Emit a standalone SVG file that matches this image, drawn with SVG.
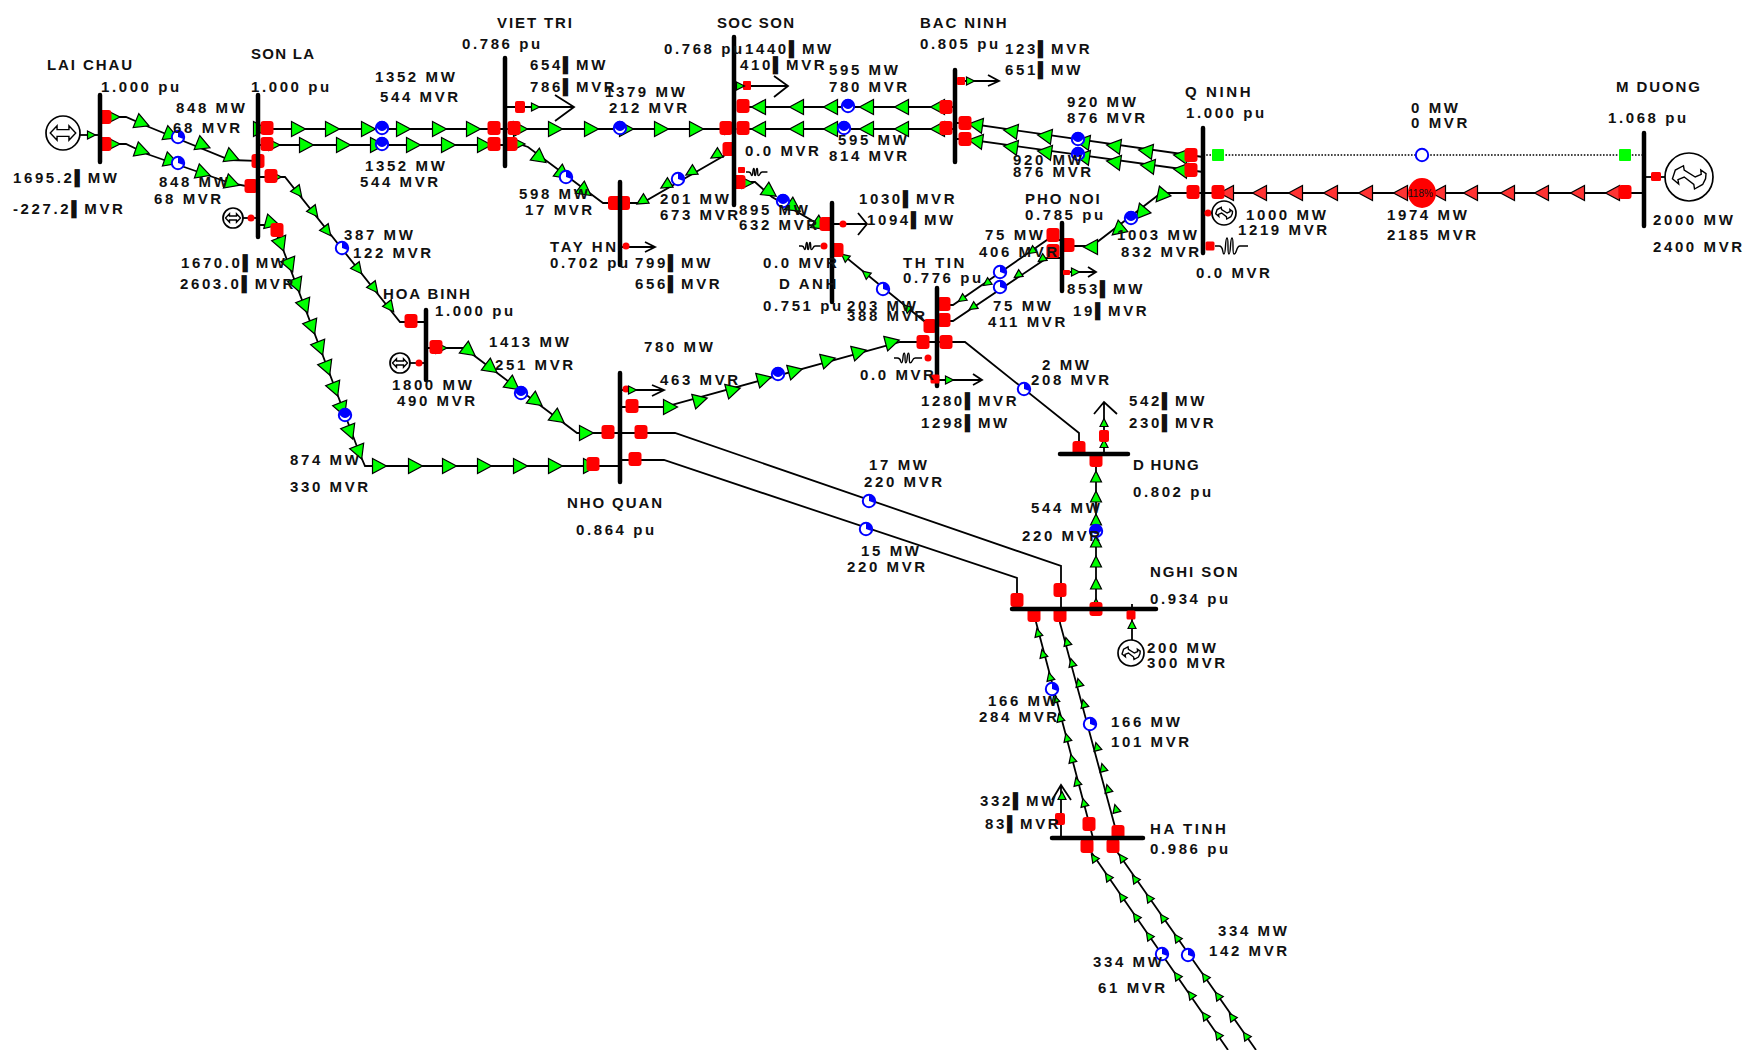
<svg xmlns="http://www.w3.org/2000/svg" width="1748" height="1050" viewBox="0 0 1748 1050">
<style>
text{font-family:"Liberation Sans","DejaVu Sans",sans-serif;font-weight:bold;font-size:15px;letter-spacing:2.6px;fill:#111}
text.k{letter-spacing:1.9px}
text.kk{letter-spacing:1.3px}
text.pct{font-size:10px;letter-spacing:0;font-weight:normal}
.bus{stroke:#000;stroke-width:4.5;stroke-linecap:round;fill:none}
.ln{stroke:#000;stroke-width:1.8;fill:none}
.dot{stroke:#000;stroke-width:1.6;stroke-dasharray:1.6 1.6;fill:none}
.tf{fill:#0f0;stroke:#000;stroke-width:1.2}
.tr{fill:#f33;stroke:#000;stroke-width:1.2}
.rd{fill:#f00}
.gs{fill:#fff;stroke:#000;stroke-width:1.7;vector-effect:non-scaling-stroke}
.g0{fill:none;stroke:#000;stroke-width:1.4;vector-effect:non-scaling-stroke}
.bo{fill:#fff;stroke:#00f;stroke-width:2}
.bf{fill:#00f}
</style>
<defs>
<polygon id="t" class="tf" points="-6.5,-7.5 7.5,0 -6.5,7.5"/>
<polygon id="s" class="tf" points="-5,-5.5 6,0 -5,5.5"/>
<polygon id="x" class="tf" points="-3.5,-4 4.5,0 -3.5,4"/>
<polygon id="q" class="tr" points="-6.5,-7.5 7.500,0 -6.5,7.5"/>
<rect id="r" class="rd" x="-6.5" y="-7" width="13" height="14" rx="3"/>
<rect id="w" class="rd" x="-4.5" y="-4.5" width="9" height="9" rx="1.5"/>
<circle id="d" class="rd" r="3.5"/>
<g id="b0"><circle class="bo" r="6.2"/></g>
<g id="b1"><circle class="bo" r="6.2"/><path class="bf" d="M-6-1A6 6 0 0 1 6-1Q0 7-6-1z"/></g>
<g id="b2"><circle class="bo" r="6.2"/><path class="bf" d="M0 0V-6A6 6 0 0 1 5.5 2z"/></g>
<path id="coil" class="g0" d="M0 0H4C9 0 7 8 9 8C11 8 10-8 12-8C14-8 12 8 14 8C16 8 15-8 17-8C19-8 17 8 19 8C22 8 21 0 25 0H33"/>
<g id="g1"><circle class="gs" r="10"/><path class="g0" d="M-7.500 0L-3.500-4.200V-2H3.500V-4.200L7.500 0L3.500 4.200V2H-3.500V4.200Z"/></g>
<g id="g2"><circle class="gs" r="10"/><path class="g0" d="M-6.900 .7L-5.700-2.900L-2.300-4.700L-2-2.900L2.600 0L5.100-1.100L4.900-2.900L7.100-1.400L6.900 .7L5.700 3.100L2.300 5L2 3.100L-2 0L-4.600 1.100L-4.300 2.900Z"/></g>
</defs>
<rect width="1748" height="1050" fill="#fff"/>

<g id="connectors">
<path class="ln" d="M100 117H126L149 127L230 160L258 161"/>
<path class="ln" d="M100 144H126L147 154L230 183L251 187"/>
<path class="ln" d="M258 129H505M258 145H505M505 129H734M743 107H955M743 129H955"/>
<path class="ln" d="M505 144H519L528 147L603 203H620M734 150L642 203H620"/>
<path class="ln" d="M258 177H285L400 322H426"/>
<path class="ln" d="M258 225H272L281 244L359 452L365 466H620"/>
<path class="ln" d="M426 348H464L577 433H641H675L1061 566V609"/>
<path class="ln" d="M620 460H664L1017 578V609"/>
<path class="ln" d="M620 407H664L900 342H946H965L1079 433V454"/>
<path class="ln" d="M734 182H755L772 197L818 224H832"/>
<path class="ln" d="M832 250H837L930 326H937"/>
<path class="ln" d="M937 305H953L1047 240H1062M937 321H953L1047 258H1062"/>
<path class="ln" d="M1062 246H1092L1161 193H1203"/>
<path class="ln" d="M955 123H965L1203 157M955 139H965L1203 172"/>
<path class="ln" d="M1203 193H1644"/>
<path class="dot" d="M1203 155H1644"/>
<path class="ln" d="M1096 454V609"/>
<path class="ln" d="M1034 609L1036 622L1093 838M1060 609V623L1118 838"/>
<path class="ln" d="M1087 838V846L1228 1050M1113 838V846L1256 1050"/>

<use href="#s" transform="translate(114 117)"/><use href="#t" transform="translate(142 123)rotate(22)"/><use href="#t" transform="translate(171 135)rotate(22)"/><use href="#t" transform="translate(203 145)rotate(22)"/><use href="#t" transform="translate(232 157)rotate(22)"/>
<use href="#s" transform="translate(114 144)"/><use href="#t" transform="translate(142 151)rotate(19)"/><use href="#t" transform="translate(171 161)rotate(19)"/><use href="#t" transform="translate(203 173)rotate(19)"/><use href="#t" transform="translate(232 183)rotate(19)"/>

<use href="#t" x="260" y="129"/><use href="#t" x="298" y="129"/><use href="#t" x="332" y="129"/><use href="#t" x="368" y="129"/><use href="#t" x="403" y="129"/><use href="#t" x="439" y="129"/><use href="#t" x="473" y="129"/>
<use href="#s" x="274" y="145"/><use href="#t" x="306" y="145"/><use href="#t" x="343" y="145"/><use href="#t" x="377" y="145"/><use href="#t" x="413" y="145"/><use href="#t" x="448" y="145"/><use href="#t" x="484" y="145"/>
<use href="#t" x="520" y="129"/><use href="#t" x="555" y="129"/><use href="#t" x="591" y="129"/><use href="#t" x="626" y="129"/><use href="#t" x="661" y="129"/><use href="#t" x="696" y="129"/><use href="#s" x="730" y="129"/>

<use href="#s" x="519" y="144"/><use href="#t" transform="translate(540 158)rotate(37)"/><use href="#t" transform="translate(563 174)rotate(37)"/><use href="#t" transform="translate(585 191)rotate(37)"/>
<use href="#s" transform="translate(716 155)rotate(149)"/><use href="#s" transform="translate(691 172)rotate(149)"/><use href="#s" transform="translate(666 185)rotate(149)"/><use href="#s" transform="translate(642 201)rotate(149)"/>

<use href="#t" transform="translate(759 107)rotate(180)"/><use href="#t" transform="translate(797 107)rotate(180)"/><use href="#t" transform="translate(831 107)rotate(180)"/><use href="#t" transform="translate(867 107)rotate(180)"/><use href="#t" transform="translate(902 107)rotate(180)"/><use href="#t" transform="translate(938 107)rotate(180)"/>
<use href="#t" transform="translate(759 129)rotate(180)"/><use href="#t" transform="translate(797 129)rotate(180)"/><use href="#t" transform="translate(831 129)rotate(180)"/><use href="#t" transform="translate(867 129)rotate(180)"/><use href="#t" transform="translate(902 129)rotate(180)"/><use href="#t" transform="translate(938 129)rotate(180)"/>

<use href="#t" transform="translate(976 125)rotate(188)"/><use href="#t" transform="translate(1011 131)rotate(188)"/><use href="#t" transform="translate(1045 136)rotate(188)"/><use href="#t" transform="translate(1083 142)rotate(188)"/><use href="#t" transform="translate(1114 146)rotate(188)"/><use href="#t" transform="translate(1146 151)rotate(188)"/><use href="#t" transform="translate(1181 156)rotate(188)"/>
<use href="#t" transform="translate(976 141)rotate(188)"/><use href="#t" transform="translate(1011 147)rotate(188)"/><use href="#t" transform="translate(1045 152)rotate(188)"/><use href="#t" transform="translate(1083 157)rotate(188)"/><use href="#t" transform="translate(1114 162)rotate(188)"/><use href="#t" transform="translate(1148 166)rotate(188)"/><use href="#t" transform="translate(1181 170)rotate(188)"/>

<use href="#x" x="277" y="177"/><use href="#s" transform="translate(298 192)rotate(52)"/><use href="#s" transform="translate(314 212)rotate(52)"/><use href="#s" transform="translate(327 231)rotate(52)"/><use href="#s" transform="translate(358 269)rotate(52)"/><use href="#s" transform="translate(374 288)rotate(52)"/><use href="#s" transform="translate(390 307)rotate(52)"/>

<use href="#t" transform="translate(272 223)rotate(15)"/><use href="#t" transform="translate(281 244)rotate(69)"/><use href="#t" transform="translate(290 265)rotate(69)"/><use href="#t" transform="translate(297 285)rotate(69)"/><use href="#t" transform="translate(305 306)rotate(69)"/><use href="#t" transform="translate(312 327)rotate(69)"/><use href="#t" transform="translate(320 348)rotate(69)"/><use href="#t" transform="translate(327 368)rotate(69)"/><use href="#t" transform="translate(335 389)rotate(69)"/><use href="#t" transform="translate(342 409)rotate(69)"/><use href="#t" transform="translate(350 432)rotate(69)"/><use href="#t" transform="translate(359 452)rotate(69)"/>
<use href="#t" x="379" y="466"/><use href="#t" x="415" y="466"/><use href="#t" x="449" y="466"/><use href="#t" x="484" y="466"/><use href="#t" x="520" y="466"/><use href="#t" x="555" y="466"/><use href="#t" x="590" y="466"/>

<use href="#s" x="441" y="348"/><use href="#t" transform="translate(469 351)rotate(37)"/><use href="#t" transform="translate(491 368)rotate(37)"/><use href="#t" transform="translate(513 385)rotate(37)"/><use href="#t" transform="translate(536 401)rotate(37)"/><use href="#t" transform="translate(558 418)rotate(37)"/><use href="#t" x="586" y="433"/>

<use href="#t" x="670" y="407"/><use href="#t" transform="translate(700 400)rotate(-15)"/><use href="#t" transform="translate(733 390)rotate(-15)"/><use href="#t" transform="translate(764 379)rotate(-15)"/><use href="#t" transform="translate(795 371)rotate(-15)"/><use href="#t" transform="translate(828 360)rotate(-15)"/><use href="#t" transform="translate(859 352)rotate(-15)"/><use href="#t" transform="translate(892 342)rotate(-15)"/>

<use href="#s" x="747" y="183"/><use href="#t" transform="translate(770 192)rotate(34)"/><use href="#t" transform="translate(794 207)rotate(34)"/><use href="#t" transform="translate(820 225)rotate(34)"/>
<use href="#x" transform="translate(845 257)rotate(219)"/><use href="#x" transform="translate(866 274)rotate(219)"/><use href="#x" transform="translate(907 308)rotate(219)"/>
<use href="#x" transform="translate(962 299)rotate(145)"/><use href="#x" transform="translate(987 283)rotate(145)"/><use href="#x" transform="translate(1032 251)rotate(145)"/>
<use href="#x" transform="translate(973 307)rotate(146)"/><use href="#x" transform="translate(1018 275)rotate(146)"/><use href="#x" transform="translate(1042 259)rotate(146)"/>
<use href="#t" transform="translate(1091 247)rotate(180)"/><use href="#t" transform="translate(1118 230)rotate(140)"/><use href="#t" transform="translate(1141 213)rotate(130)"/><use href="#t" transform="translate(1161 196)rotate(130)"/>

<use href="#q" transform="translate(1227 193)rotate(180)"/><use href="#q" transform="translate(1260 193)rotate(180)"/><use href="#q" transform="translate(1296 193)rotate(180)"/><use href="#q" transform="translate(1331 193)rotate(180)"/><use href="#q" transform="translate(1366 193)rotate(180)"/><use href="#q" transform="translate(1401 193)rotate(180)"/><use href="#q" transform="translate(1439 193)rotate(180)"/><use href="#q" transform="translate(1471 193)rotate(180)"/><use href="#q" transform="translate(1508 193)rotate(180)"/><use href="#q" transform="translate(1542 193)rotate(180)"/><use href="#q" transform="translate(1578 193)rotate(180)"/><use href="#q" transform="translate(1613 193)rotate(180)"/>

<use href="#s" transform="translate(1096 477)rotate(-90)"/><use href="#s" transform="translate(1096 497)rotate(-90)"/><use href="#s" transform="translate(1096 520)rotate(-90)"/><use href="#s" transform="translate(1096 542)rotate(-90)"/><use href="#s" transform="translate(1096 562)rotate(-90)"/><use href="#s" transform="translate(1096 584)rotate(-90)"/><use href="#x" transform="translate(1096 603)rotate(-90)"/>

<use href="#x" transform="translate(1038 633)rotate(-105)"/><use href="#x" transform="translate(1043 654)rotate(-105)"/><use href="#x" transform="translate(1050 677)rotate(-105)"/><use href="#x" transform="translate(1055 699)rotate(-105)"/><use href="#x" transform="translate(1060 718)rotate(-105)"/><use href="#x" transform="translate(1067 738)rotate(-105)"/><use href="#x" transform="translate(1072 759)rotate(-105)"/><use href="#x" transform="translate(1077 782)rotate(-105)"/><use href="#x" transform="translate(1084 803)rotate(-105)"/>
<use href="#x" transform="translate(1067 642)rotate(-105)"/><use href="#x" transform="translate(1072 663)rotate(-105)"/><use href="#x" transform="translate(1079 683)rotate(-105)"/><use href="#x" transform="translate(1084 704)rotate(-105)"/><use href="#x" transform="translate(1097 747)rotate(-105)"/><use href="#x" transform="translate(1103 768)rotate(-105)"/><use href="#x" transform="translate(1108 789)rotate(-105)"/><use href="#x" transform="translate(1116 809)rotate(-105)"/>

<use href="#x" transform="translate(1094 858)rotate(-125)"/><use href="#x" transform="translate(1108 877)rotate(-125)"/><use href="#x" transform="translate(1122 897)rotate(-125)"/><use href="#x" transform="translate(1136 917)rotate(-125)"/><use href="#x" transform="translate(1149 936)rotate(-125)"/><use href="#x" transform="translate(1177 976)rotate(-125)"/><use href="#x" transform="translate(1191 995)rotate(-125)"/><use href="#x" transform="translate(1205 1016)rotate(-125)"/><use href="#x" transform="translate(1218 1035)rotate(-125)"/>
<use href="#x" transform="translate(1122 858)rotate(-125)"/><use href="#x" transform="translate(1135 879)rotate(-125)"/><use href="#x" transform="translate(1149 898)rotate(-125)"/><use href="#x" transform="translate(1163 918)rotate(-125)"/><use href="#x" transform="translate(1177 938)rotate(-125)"/><use href="#x" transform="translate(1205 977)rotate(-125)"/><use href="#x" transform="translate(1218 996)rotate(-125)"/><use href="#x" transform="translate(1232 1017)rotate(-125)"/><use href="#x" transform="translate(1246 1036)rotate(-125)"/>

<use href="#b2" x="178" y="137"/><use href="#b2" x="178" y="163"/>
<use href="#b1" x="382" y="128"/><use href="#b1" x="382" y="144"/><use href="#b1" x="620" y="128"/>
<use href="#b2" x="566" y="177"/><use href="#b2" x="678" y="179"/><use href="#b2" x="342" y="248"/>
<use href="#b1" x="848" y="106"/><use href="#b1" x="844" y="128"/><use href="#b1" x="783" y="201"/>
<use href="#b1" x="1078" y="139"/><use href="#b1" x="1078" y="154"/><use href="#b1" x="1131" y="218"/>
<use href="#b1" x="345" y="415"/><use href="#b1" x="521" y="393"/><use href="#b1" x="778" y="374"/>
<use href="#b2" x="883" y="289"/><use href="#b2" x="1000" y="272"/><use href="#b2" x="1000" y="287"/><use href="#b2" x="1024" y="389"/>
<use href="#b2" x="869" y="501"/><use href="#b2" x="866" y="529"/><use href="#b1" x="1096" y="531"/>
<use href="#b2" x="1052" y="689"/><use href="#b2" x="1090" y="724"/><use href="#b2" x="1162" y="954"/><use href="#b2" x="1188" y="955"/>
<use href="#b0" x="1422" y="155"/>

<use href="#r" x="105" y="117"/><use href="#r" x="105" y="144"/><use href="#r" x="258" y="161"/><use href="#r" x="251" y="186"/>
<use href="#r" x="267" y="128"/><use href="#r" x="267" y="144"/><use href="#r" x="271" y="176"/><use href="#r" x="277" y="230"/>
<use href="#r" x="494" y="128"/><use href="#r" x="514" y="128"/><use href="#r" x="494" y="144"/><use href="#r" x="511" y="144"/>
<use href="#r" x="726" y="128"/><use href="#r" x="743" y="106"/><use href="#r" x="743" y="128"/><use href="#r" x="946" y="107"/><use href="#r" x="946" y="128"/>
<use href="#r" x="729" y="149"/><use href="#r" x="739" y="182"/><use href="#r" x="826" y="224"/><use href="#r" x="837" y="250"/>
<rect class="rd" x="608" y="196" width="22" height="14" rx="3"/>
<use href="#r" x="965" y="123"/><use href="#r" x="965" y="139"/><use href="#r" x="1191" y="155"/><use href="#r" x="1191" y="170"/>
<use href="#r" x="411" y="321"/><use href="#r" x="436" y="347"/><use href="#r" x="608" y="432"/><use href="#r" x="641" y="432"/><use href="#r" x="593" y="464"/><use href="#r" x="635" y="459"/><use href="#r" x="632" y="406"/>
<use href="#r" x="923" y="342"/><use href="#r" x="946" y="342"/><use href="#r" x="944" y="304"/><use href="#r" x="944" y="320"/><use href="#r" x="930" y="326"/>
<use href="#r" x="1053" y="235"/><use href="#r" x="1053" y="251"/><use href="#r" x="1068" y="245"/>
<use href="#r" x="1193" y="192"/><use href="#r" x="1218" y="192"/><use href="#r" x="1625" y="192"/>
<use href="#r" x="1079" y="448"/><use href="#r" x="1096" y="460"/><use href="#r" x="1096" y="609"/>
<use href="#r" x="1017" y="600"/><use href="#r" x="1060" y="590"/><use href="#r" x="1034" y="615"/><use href="#r" x="1060" y="615"/>
<use href="#r" x="1089" y="824"/><use href="#r" x="1118" y="832"/><use href="#r" x="1087" y="846"/><use href="#r" x="1113" y="846"/>
<rect x="1212" y="149" width="12" height="12" rx="1" fill="#0f0"/><rect x="1619" y="149" width="12" height="12" rx="1" fill="#0f0"/>
<ellipse cx="1422" cy="193" rx="14" ry="15" fill="#f00"/>
<text class="pct" x="1408" y="197">118%</text>
</g>

<g id="lai-chau">
<path class="bus" d="M100 95V162"/><path class="ln" d="M80 135H100"/><use href="#x" x="91" y="135"/>
<use href="#g1" transform="translate(63 133)scale(1.7)"/>
<text class="k" x="47" y="70">LAI CHAU</text><text x="101" y="92">1.000 pu</text>
<text x="13" y="183">1695.2▌MW</text><text x="13" y="214">-227.2▌MVR</text>
</g>
<g id="son-la">
<path class="bus" d="M258 95V237"/><path class="ln" d="M243 218H258"/><use href="#d" x="251" y="218"/>
<use href="#g1" x="233" y="218"/>
<text class="kk" x="251" y="59">SON LA</text><text x="251" y="92">1.000 pu</text>
<text x="181" y="268">1670.0▌MW</text><text x="180" y="289">2603.0▌MVR</text>
</g>
<g id="viet-tri">
<path class="bus" d="M505 58V166"/><path class="ln" d="M505 107H574M555 95L574 107L555 121"/>
<rect class="rd" x="515" y="101" width="10" height="12" rx="2"/><use href="#x" x="535" y="107"/>
<text class="k" x="497" y="28">VIET TRI</text><text x="462" y="49">0.786 pu</text>
<text x="530" y="70">654▌MW</text><text x="530" y="92">786▌MVR</text>
</g>
<g id="soc-son">
<path class="bus" d="M734 37V205"/><path class="ln" d="M734 86H788M774 76L788 86L774 97"/>
<rect class="rd" x="743" y="81" width="8" height="9" rx="1"/><use href="#x" x="740" y="86"/>
<rect class="rd" x="738" y="167" width="7" height="6" rx="1"/><use href="#coil" transform="translate(746 172)scale(.65 .45)"/>
<text class="kk" x="717" y="28">SOC SON</text><text x="664" y="54">0.768 pu</text>
<text x="745" y="54">1440▌MW</text><text x="740" y="70">410▌MVR</text><text x="745" y="156">0.0 MVR</text>
</g>
<g id="bac-ninh">
<path class="bus" d="M955 70V162"/><path class="ln" d="M955 81H999M988 75L999 81L988 86"/>
<rect class="rd" x="957" y="77" width="8" height="8" rx="1"/><use href="#x" x="970" y="81"/>
<text class="k" x="920" y="28">BAC NINH</text><text x="920" y="49">0.805 pu</text>
<text x="1005" y="54">123▌MVR</text><text x="1005" y="75">651▌MW</text>
</g>
<g id="tay-hn">
<path class="bus" d="M620 182V265"/><path class="ln" d="M620 247H655M645 242L655 247L645 252"/><use href="#d" x="626" y="246"/>
<text x="550" y="252">TAY HN</text><text x="550" y="268">0.702 pu</text>
<text x="635" y="268">799▌MW</text><text x="635" y="289">656▌MVR</text>
</g>
<g id="d-anh">
<path class="bus" d="M832 203V302"/><path class="ln" d="M832 224H867M858 213L867 224L858 235"/><use href="#d" x="843" y="224"/>
<use href="#d" x="824" y="246"/><use href="#coil" transform="translate(799 246)scale(.65 .45)"/>
<text x="763" y="268">0.0 MVR</text><text x="779" y="289">D ANH</text><text x="763" y="311">0.751 pu</text>
<text x="859" y="204">1030▌MVR</text><text x="867" y="225">1094▌MW</text>
</g>
<g id="q-ninh">
<path class="bus" d="M1203 128V253"/><path class="ln" d="M1203 213H1212"/><use href="#d" x="1208" y="213"/>
<use href="#g2" transform="translate(1224 213)scale(1.2)"/>
<use href="#w" x="1210" y="246"/><use href="#coil" transform="translate(1215 246)"/>
<text x="1185" y="97">Q NINH</text><text x="1186" y="118">1.000 pu</text>
<text x="1246" y="220">1000 MW</text><text x="1238" y="235">1219 MVR</text><text x="1196" y="278">0.0 MVR</text>
</g>
<g id="m-duong">
<path class="bus" d="M1644 133V226"/><path class="ln" d="M1644 177H1665"/><rect class="rd" x="1651" y="172" width="10" height="9" rx="1.500"/>
<use href="#g2" transform="translate(1689 177)scale(2.4)"/>
<text class="k" x="1616" y="92">M DUONG</text><text x="1608" y="123">1.068 pu</text>
<text x="1653" y="225">2000 MW</text><text x="1653" y="252">2400 MVR</text>
</g>
<g id="hoa-binh">
<path class="bus" d="M426 310V380"/><path class="ln" d="M410 363H426"/><use href="#d" x="419" y="363"/>
<use href="#g1" x="400" y="363"/>
<text class="k" x="383" y="299">HOA BINH</text><text x="435" y="316">1.000 pu</text>
<text x="392" y="390">1800 MW</text><text x="397" y="406">490 MVR</text>
</g>
<g id="nho-quan">
<path class="bus" d="M620 373V482"/><path class="ln" d="M620 390H664M652 385L664 390L652 396"/>
<use href="#d" x="626" y="389"/><use href="#x" x="632" y="390"/>
<text class="k" x="567" y="508">NHO QUAN</text><text x="576" y="535">0.864 pu</text>
</g>
<g id="th-tin">
<path class="bus" d="M937 288V386"/><path class="ln" d="M937 380H982M973 374L982 380L973 385"/>
<use href="#x" x="949" y="380"/><use href="#w" x="935" y="379"/>
<use href="#d" x="928" y="358"/><use href="#coil" transform="translate(894 358)scale(.85 .6)"/>
<text x="903" y="268">TH TIN</text><text x="903" y="283">0.776 pu</text><text x="860" y="380">0.0 MVR</text>
<text x="921" y="406">1280▌MVR</text><text x="921" y="428">1298▌MW</text>
</g>
<g id="pho-noi">
<path class="bus" d="M1062 223V291"/><path class="ln" d="M1062 272H1096M1088 267L1096 272L1088 277"/>
<use href="#x" x="1075" y="272"/><rect class="rd" x="1063" y="270" width="7" height="5" rx="1"/>
<text class="k" x="1025" y="204">PHO NOI</text><text x="1025" y="220">0.785 pu</text>
<text x="1067" y="294">853▌MW</text><text x="1073" y="316">19▌MVR</text>
</g>
<g id="d-hung">
<path class="bus" d="M1060 454H1128"/><path class="ln" d="M1104 454V402M1094 414L1104 402L1117 414"/>
<use href="#x" transform="translate(1104 423)rotate(-90)"/><use href="#x" transform="translate(1104 444)rotate(-90)"/>
<rect class="rd" x="1099" y="430" width="10" height="12" rx="2"/>
<text class="kk" x="1133" y="470">D HUNG</text><text x="1133" y="497">0.802 pu</text>
<text x="1129" y="406">542▌MW</text><text x="1129" y="428">230▌MVR</text>
</g>
<g id="nghi-son">
<path class="bus" d="M1012 609H1156"/><path class="ln" d="M1132 604V640"/>
<use href="#x" transform="translate(1132 625)rotate(-90)"/><use href="#w" x="1131" y="615"/>
<use href="#g2" transform="translate(1131 653)scale(1.3)"/>
<text class="k" x="1150" y="577">NGHI SON</text><text x="1150" y="604">0.934 pu</text>
<text x="1147" y="653">200 MW</text><text x="1147" y="668">300 MVR</text>
</g>
<g id="ha-tinh">
<path class="bus" d="M1052 838H1143"/><path class="ln" d="M1061 840V785M1052 800L1061 785L1071 800"/>
<use href="#x" transform="translate(1062 796)rotate(-90)"/><rect class="rd" x="1055" y="813" width="10" height="12" rx="2"/>
<text x="1150" y="834">HA TINH</text><text x="1150" y="854">0.986 pu</text>
<text x="980" y="806">332▌MW</text><text x="985" y="829">83▌MVR</text>
</g>

<g id="flow-labels">
<text x="176" y="113">848 MW</text><text x="173" y="133">68 MVR</text>
<text x="159" y="187">848 MW</text><text x="154" y="204">68 MVR</text>
<text x="375" y="82">1352 MW</text><text x="380" y="102">544 MVR</text>
<text x="365" y="171">1352 MW</text><text x="360" y="187">544 MVR</text>
<text x="344" y="240">387 MW</text><text x="353" y="258">122 MVR</text>
<text x="489" y="347">1413 MW</text><text x="495" y="370">251 MVR</text>
<text x="519" y="199">598 MW</text><text x="525" y="215">17 MVR</text>
<text x="605" y="97">1379 MW</text><text x="609" y="113">212 MVR</text>
<text x="829" y="75">595 MW</text><text x="829" y="92">780 MVR</text>
<text x="838" y="145">595 MW</text><text x="829" y="161">814 MVR</text>
<text x="1067" y="107">920 MW</text><text x="1067" y="123">876 MVR</text>
<text x="1013" y="165">920 MW</text><text x="1013" y="177">876 MVR</text>
<text x="1411" y="113">0 MW</text><text x="1411" y="128">0 MVR</text>
<text x="1387" y="220">1974 MW</text><text x="1387" y="240">2185 MVR</text>
<text x="1117" y="240">1003 MW</text><text x="1121" y="257">832 MVR</text>
<text x="985" y="240">75 MW</text><text x="979" y="257">406 MVR</text>
<text x="993" y="311">75 MW</text><text x="988" y="327">411 MVR</text>
<text x="847" y="311">203 MW</text><text x="847" y="321">388 MVR</text>
<text x="660" y="204">201 MW</text><text x="660" y="220">673 MVR</text>
<text x="739" y="215">895 MW</text><text x="739" y="230">632 MVR</text>
<text x="644" y="352">780 MW</text><text x="660" y="385">463 MVR</text>
<text x="290" y="465">874 MW</text><text x="290" y="492">330 MVR</text>
<text x="1042" y="370">2 MW</text><text x="1031" y="385">208 MVR</text>
<text x="869" y="470">17 MW</text><text x="864" y="487">220 MVR</text>
<text x="861" y="556">15 MW</text><text x="847" y="572">220 MVR</text>
<text x="1031" y="513">544 MW</text><text x="1022" y="541">220 MVR</text>
<text x="988" y="706">166 MW</text><text x="979" y="722">284 MVR</text>
<text x="1111" y="727">166 MW</text><text x="1111" y="747">101 MVR</text>
<text x="1218" y="936">334 MW</text><text x="1209" y="956">142 MVR</text>
<text x="1093" y="967">334 MW</text><text x="1098" y="993">61 MVR</text>
</g>
</svg>
